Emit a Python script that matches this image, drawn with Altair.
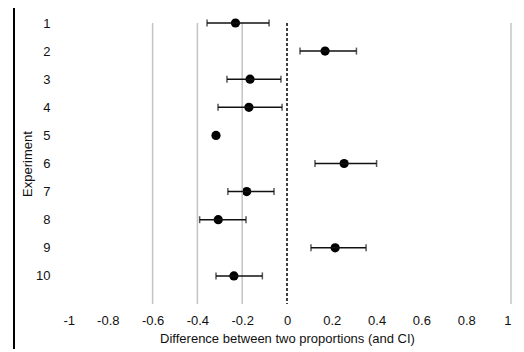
import altair as alt
import pandas as pd

experiment = [1, 2, 3, 4, 5, 6, 7, 8, 9, 10]
estimate = [-0.23, 0.17, -0.165, -0.17, -0.317, 0.255, -0.18, -0.307, 0.215, -0.237]
lower = [-0.357, 0.058, -0.268, -0.308, None, 0.125, -0.264, -0.39, 0.107, -0.317]
upper = [-0.08, 0.31, -0.027, -0.022, None, 0.40, -0.058, -0.183, 0.353, -0.11]

grid_x = [-0.6, -0.4, -0.2, 1]
zero_x = [0]
x_ticks = [-1, -0.8, -0.6, -0.4, -0.2, 0, 0.2, 0.4, 0.6, 0.8, 1]
y_ticks = experiment

df = pd.DataFrame({"exp": experiment, "est": estimate, "lo": lower, "hi": upper})
ci = df.dropna()

FONT = "Liberation Sans"

xscale = alt.Scale(domain=[-1, 1], nice=False, zero=False)
yscale = alt.Scale(domain=[1, 11], reverse=True, nice=False, zero=False)

xaxis = alt.Axis(
    values=x_ticks,
    labelExpr="replace(format(datum.value, '.1~f'), '\u2212', '-')",
    grid=False, ticks=False, domain=False, labelOverlap=False,
    labelPadding=10, labelFontSize=13, labelColor="#111111", labelFont=FONT,
    title="Difference between two proportions (and CI)",
    titleFontSize=13, titleFontWeight="normal", titleFont=FONT, titleColor="#111111",
    titlePadding=5,
)
yaxis = alt.Axis(
    values=y_ticks, grid=False, ticks=False, domain=False, labelOverlap=False,
    labelPadding=13, labelFontSize=13, labelColor="#111111", labelFont=FONT,
    title="Experiment", titleFontSize=13, titleFontWeight="normal", titleFont=FONT,
    titleColor="#111111", titlePadding=1,
)

grid = alt.Chart(pd.DataFrame({"g": grid_x})).mark_rule(color="#c4c4c4", strokeWidth=1.5).encode(
    x=alt.X("g:Q", scale=xscale, axis=xaxis)
)
zero = alt.Chart(pd.DataFrame({"z": zero_x})).mark_rule(
    color="black", strokeWidth=1.5, strokeDash=[3, 2]
).encode(x=alt.X("z:Q", scale=xscale, axis=xaxis))

bars = alt.Chart(ci).mark_rule(color="#111111", strokeWidth=1.5).encode(
    x=alt.X("lo:Q", scale=xscale, axis=xaxis), x2="hi:Q",
    y=alt.Y("exp:Q", scale=yscale, axis=yaxis)
)
cap_lo = alt.Chart(ci).mark_tick(color="#111111", thickness=1.5, size=7, orient="vertical").encode(
    x=alt.X("lo:Q", scale=xscale, axis=xaxis), y=alt.Y("exp:Q", scale=yscale, axis=yaxis)
)
cap_hi = alt.Chart(ci).mark_tick(color="#111111", thickness=1.5, size=7, orient="vertical").encode(
    x=alt.X("hi:Q", scale=xscale, axis=xaxis), y=alt.Y("exp:Q", scale=yscale, axis=yaxis)
)
pts = alt.Chart(df).mark_circle(color="black", opacity=1, size=85).encode(
    x=alt.X("est:Q", scale=xscale, axis=xaxis), y=alt.Y("exp:Q", scale=yscale, axis=yaxis)
)

border = alt.Chart(pd.DataFrame({"a": [0]})).mark_rule(color="black", strokeWidth=2).encode(
    x=alt.value(-49), y=alt.value(-15), y2=alt.value(340)
)

chart = alt.layer(pts, grid, zero, bars, cap_lo, cap_hi, border).properties(
    width=448, height=281,
    padding={"left": 55, "top": 15, "right": 5, "bottom": 45},
    autosize=alt.AutoSizeParams(type="none"),
).configure(
    background="white",
    view=alt.ViewConfig(strokeWidth=0, stroke="transparent"),
    axis=alt.AxisConfig(labelOverlap=False),
)

chart.save("out.html", embed_options={"renderer": "svg", "actions": False})
